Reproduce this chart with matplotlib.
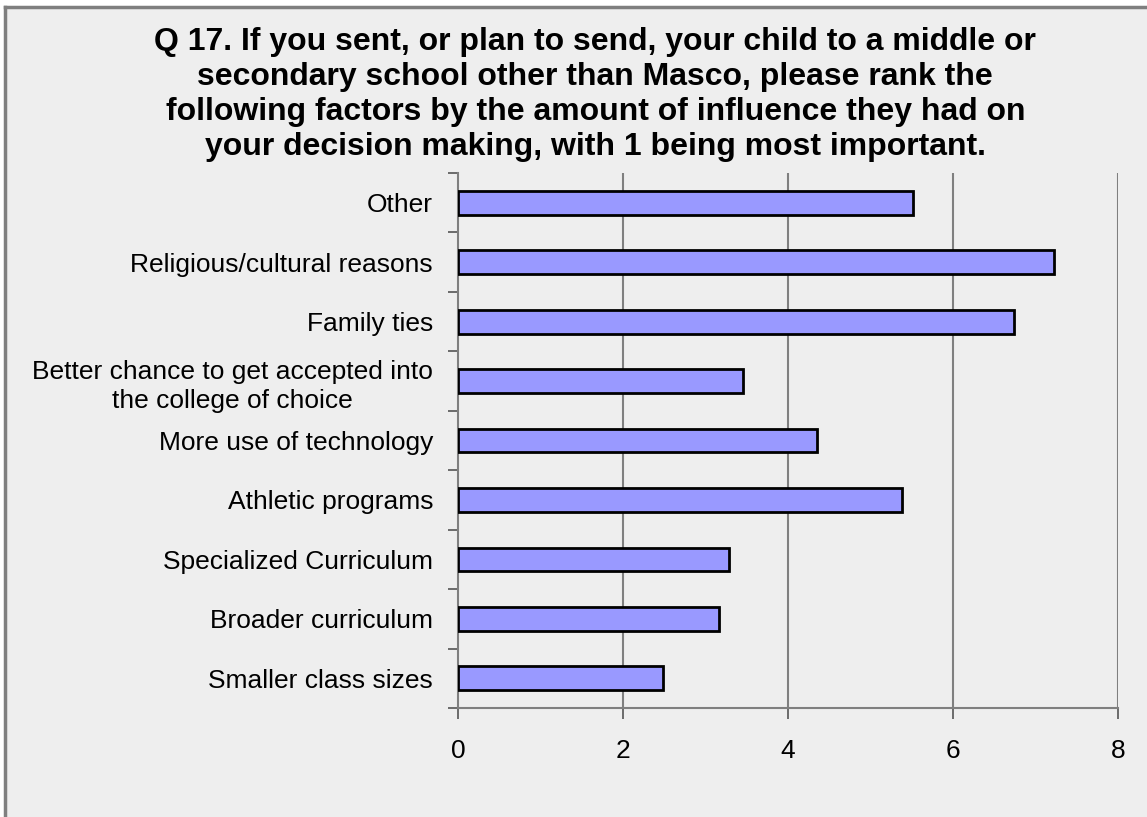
import numpy as np
import matplotlib.pyplot as plt
from matplotlib.lines import Line2D

plt.rcParams['font.family'] = ['Liberation Sans', 'DejaVu Sans']

# Factors, listed bottom to top
factors = [
    'Smaller class sizes',
    'Broader curriculum',
    'Specialized Curriculum',
    'Athletic programs',
    'More use of technology',
    'Better chance to get accepted into\nthe college of choice',
    'Family ties',
    'Religious/cultural reasons',
    'Other',
]
avg_rank = [2.49, 3.16, 3.29, 5.38, 4.35, 3.46, 6.74, 7.22, 5.51]
xticks = [0, 2, 4, 6, 8]

title = ('Q 17. If you sent, or plan to send, your child to a middle or\n'
         'secondary school other than Masco, please rank the\n'
         'following factors by the amount of influence they had on\n'
         'your decision making, with 1 being most important.')

bg = '#eeeeee'
grey = '#7f7f7f'

fig = plt.figure(figsize=(11.47, 8.17), dpi=100, facecolor='white')

# panel background with a grey border on the top and left edges
fig.patches.append(plt.Rectangle((5 / 1147, 0), 1, 1 - 7 / 817,
                                 transform=fig.transFigure, facecolor=bg,
                                 edgecolor='none', zorder=-1))
fig.lines.append(Line2D([5 / 1147, 1], [1 - 7 / 817, 1 - 7 / 817],
                        transform=fig.transFigure, color=grey, lw=2.5))
fig.lines.append(Line2D([5 / 1147, 5 / 1147], [0, 1 - 7 / 817],
                        transform=fig.transFigure, color=grey, lw=2.5))

ax = fig.add_axes([458 / 1147, 109 / 817, 660 / 1147, 535 / 817])
ax.set_facecolor(bg)

y = np.arange(len(factors))
ax.barh(y, avg_rank, height=0.4, color='#9999ff', edgecolor='black',
        linewidth=2, zorder=3)

ax.set_xlim(0, 8)
ax.set_ylim(-0.5, len(factors) - 0.5)
ax.set_xticks(xticks)
ax.set_xticklabels([str(t) for t in xticks], fontsize=19)
ax.set_yticks(y)
ax.set_yticklabels(factors, fontsize=19)
for lbl in ax.get_yticklabels():
    lbl.set_multialignment('center')
    lbl.set_linespacing(1.3)
ax.set_yticks(np.arange(-0.5, len(factors), 1), minor=True)

ax.tick_params(axis='y', which='major', length=0, pad=18)
ax.tick_params(axis='y', which='minor', length=7, width=1.2, color='#555555',
               direction='out')
ax.tick_params(axis='x', length=8, width=1.2, color='#555555', pad=14)

for s in ['top', 'right']:
    ax.spines[s].set_visible(False)
for s in ['left', 'bottom']:
    ax.spines[s].set_color(grey)
    ax.spines[s].set_linewidth(1.5)

for t in xticks[1:]:
    ax.axvline(t, color=grey, lw=1.5, zorder=1)

fig.text(0.519, 0.967, title, ha='center', va='top', fontsize=23,
         fontweight='bold', linespacing=1.22)

fig.savefig('out.png', dpi=100, facecolor='white')
